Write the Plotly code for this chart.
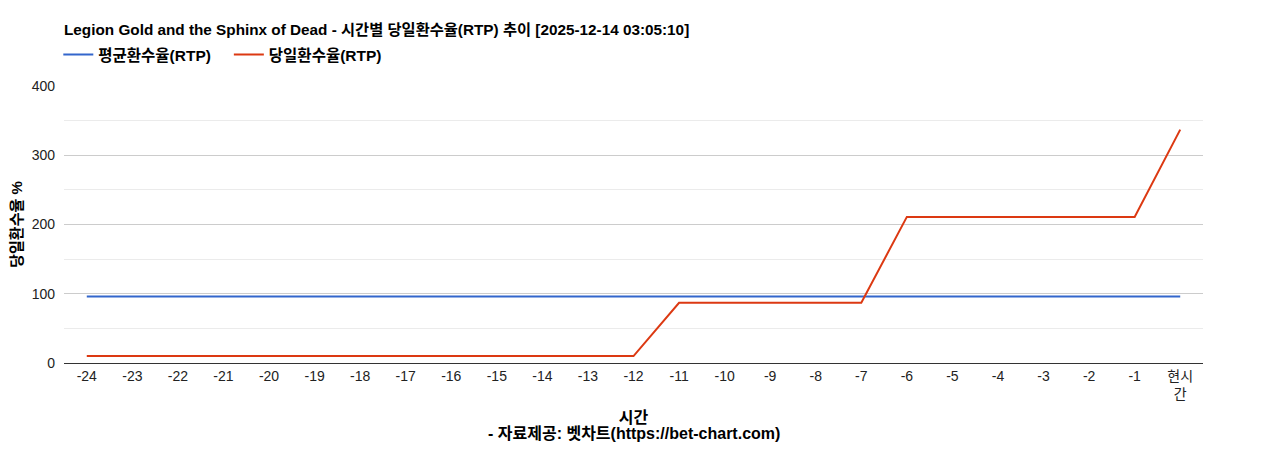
import plotly.graph_objects as go

# hours relative to now
hours = [str(h) for h in range(-24, 0)] + ["현시<br>간"]
avg_rtp = [96] * 25
daily_rtp = [10] * 13 + [87] * 5 + [211] * 6 + [337]

font_family = "Arial, Liberation Sans, Noto Sans CJK KR"

fig = go.Figure()
fig.add_trace(go.Scatter(
    x=hours, y=avg_rtp, mode="lines", name="<b>평균환수율(RTP)</b>\u00a0\u00a0\u00a0",
    line=dict(color="#3366CC", width=2),
))
fig.add_trace(go.Scatter(
    x=hours, y=daily_rtp, mode="lines", name="<b>당일환수율(RTP)</b>",
    line=dict(color="#DC3912", width=2),
))

# page body adds an 8px offset, margins compensate for it
fig.update_layout(
    width=1268, height=450,
    paper_bgcolor="white", plot_bgcolor="white",
    margin=dict(l=56, r=73, t=78, b=95),
    font=dict(family=font_family, size=14, color="#222222"),
    title=dict(
        text="<b>Legion Gold and the Sphinx of Dead - 시간별 당일환수율(RTP) 추이 [2025-12-14 03:05:10]</b>",
        x=0, xref="paper", xanchor="left", y=1 - 22 / 450, yanchor="middle",
        font=dict(size=15.3, color="black"),
    ),
    legend=dict(
        orientation="h", x=-0.005, xanchor="left", y=1.112, yanchor="middle",
        font=dict(size=15.5, color="black"), traceorder="normal",
    ),
    xaxis=dict(
        type="category", range=[-0.5, 24.5],
        showgrid=False, showline=False, ticks="",
        tickfont=dict(size=14, color="#222222"),
        ticklabelstandoff=3,
        title=dict(text="<b>시간</b>", font=dict(size=16, color="black"), standoff=10),
        automargin=False,
    ),
    yaxis=dict(
        range=[0, 400], dtick=100,
        gridcolor="#cccccc", gridwidth=1,
        zeroline=True, zerolinecolor="#333333", zerolinewidth=1,
        tickfont=dict(size=14, color="#222222"),
        ticklabelstandoff=8,
        minor=dict(dtick=50, showgrid=True, gridcolor="#ebebeb"),
        title=dict(text="<b>당일환수율 %</b>", font=dict(size=15, color="black"), standoff=14),
        automargin=False,
    ),
    annotations=[dict(
        text="<b>- 자료제공: 벳차트(https://bet-chart.com)</b>",
        xref="paper", x=0.5, xanchor="center",
        yref="paper", y=-70 / 277, yanchor="middle",
        showarrow=False, font=dict(size=16, color="black"),
    )],
)

fig.write_html("out.html")
